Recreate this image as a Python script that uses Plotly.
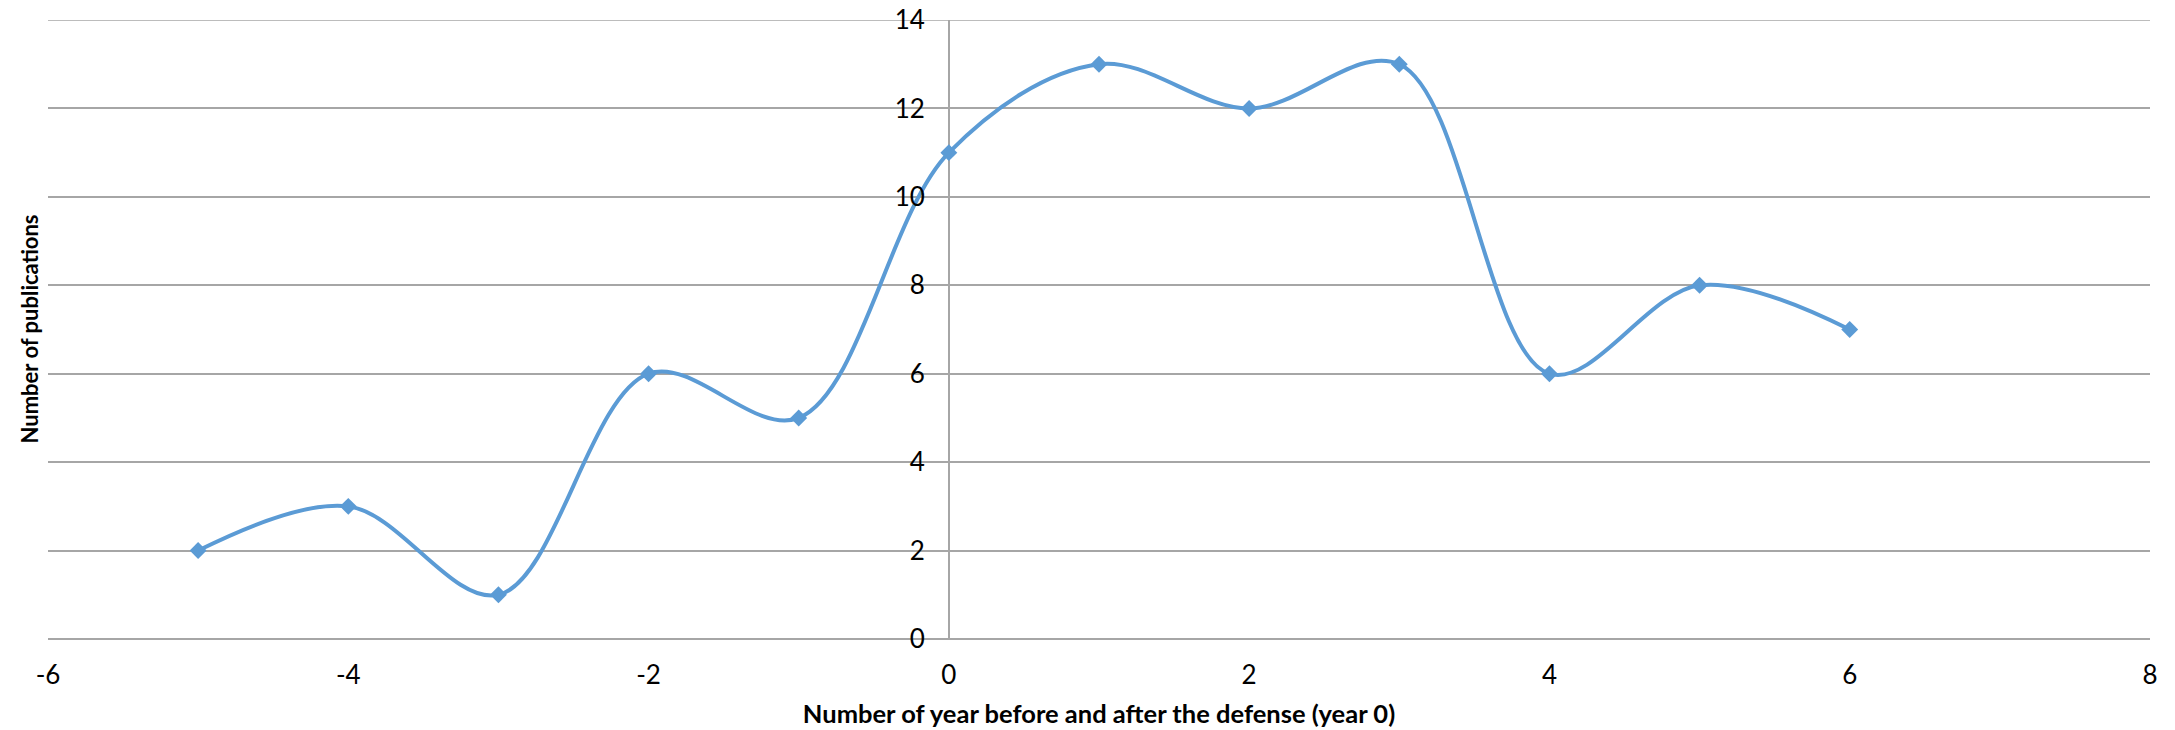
import plotly.graph_objects as go

years = [-5, -4, -3, -2, -1, 0, 1, 2, 3, 4, 5, 6]
publications = [2, 3, 1, 6, 5, 11, 13, 12, 13, 6, 8, 7]
x_ticks = [-6, -4, -2, 0, 2, 4, 6, 8]
y_ticks = [0, 2, 4, 6, 8, 10, 12, 14]

W, H = 2175, 730
ml, mr, mt, mb = 48, 25, 20, 91

fig = go.Figure()
fig.add_trace(go.Scatter(
    x=years, y=publications, mode="lines+markers",
    line=dict(color="#5B9BD5", width=4, shape="spline", smoothing=1.0),
    marker=dict(symbol="diamond", size=13, color="#5B9BD5"),
    showlegend=False,
))

font_family = "Lato"
fig.update_layout(
    width=W, height=H,
    margin=dict(l=ml, r=mr, t=mt, b=mb, pad=0),
    plot_bgcolor="white", paper_bgcolor="white",
    font=dict(family=font_family, color="black", size=26),
    xaxis=dict(
        range=[-6, 8], tickvals=x_ticks, ticktext=[str(v) for v in x_ticks],
        showgrid=False, zeroline=True, zerolinecolor="#A6A6A6", zerolinewidth=1.5,
        showline=False, ticks="", ticklabelstandoff=18, automargin=False,
        ticklabeloverflow="allow",
        title=dict(text="<b>Number of year before and after the defense (year 0)</b>",
                   font=dict(size=25.5, family=font_family), standoff=16),
    ),
    yaxis=dict(
        range=[0, 14], tickvals=y_ticks, ticktext=[str(v) for v in y_ticks],
        showgrid=True, gridcolor="#A6A6A6", gridwidth=1.5,
        zeroline=True, zerolinecolor="#A6A6A6", zerolinewidth=1.5,
        anchor="free", position=6 / 14, ticks="", ticklabelstandoff=24,
        showline=False, automargin=False, ticklabeloverflow="allow",
    ),
    shapes=[dict(
        type="line", xref="paper", yref="y", x0=0, x1=1,
        y0=max(y_ticks), y1=max(y_ticks),
        line=dict(color="#A6A6A6", width=1.5), layer="below",
    )],
    annotations=[dict(
        text="<b>Number of publications</b>", textangle=-90,
        x=(29 - ml) / (W - ml - mr), xref="paper", yref="paper",
        y=0.5, showarrow=False, font=dict(size=22, family=font_family),
        xanchor="center", yanchor="middle",
    )],
)

fig.write_html("out.html", config={"displayModeBar": False},
               post_script="document.body.style.margin='0';")
